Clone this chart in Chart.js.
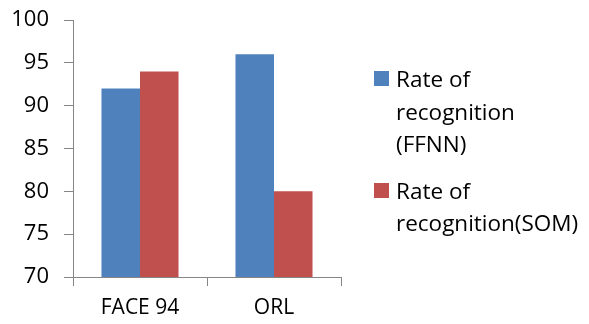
<!DOCTYPE html>
<html>
<head>
<meta charset="utf-8">
<script src="https://cdn.jsdelivr.net/npm/chart.js@4.4.1/dist/chart.umd.min.js"></script>
<style>
  html, body { margin: 0; padding: 0; background: #fff; }
  #wrap { position: relative; width: 589px; height: 324px; }
  #legend { position: absolute; left: 374px; top: 63px; font-family: "Open Sans", sans-serif; font-size: 22.5px; line-height: 32.5px; color: #000; }
  .item { position: relative; padding-left: 22px; margin-bottom: 14px; white-space: nowrap; }
  .box { position: absolute; left: 0; top: 8px; width: 15px; height: 15px; }
</style>
</head>
<body>
<div id="wrap">
  <canvas id="chart" width="589" height="324"></canvas>
  <div id="legend"></div>
</div>
<script>
// datos
const categorias = ['FACE 94', 'ORL'];
const ffnn = [92, 96];
const som = [94, 80];
const series = [
  { nombre: ['Rate of', 'recognition', '(FFNN)'], color: '#4F81BD', datos: ffnn },
  { nombre: ['Rate of', 'recognition(SOM)'], color: '#C0504D', datos: som }
];
const ejeMin = 70, ejeMax = 100, paso = 5;

const gris = '#868686';
const fuente = { family: '"Open Sans", sans-serif', size: 22 };

// sin relleno automático: el área del gráfico la fija layout.padding
function sinRelleno(s) {
  s.paddingTop = 0; s.paddingBottom = 0; s.paddingLeft = 0; s.paddingRight = 0;
}

const ctx = document.getElementById('chart').getContext('2d');
const chart = new Chart(ctx, {
  type: 'bar',
  data: {
    labels: categorias,
    datasets: series.map(s => ({
      label: s.nombre.join(' '),
      data: s.datos,
      backgroundColor: s.color,
      borderWidth: 0,
      barPercentage: 1,
      categoryPercentage: 0.575
    }))
  },
  options: {
    responsive: false,
    animation: false,
    layout: { padding: { top: 20, right: 248, left: 0, bottom: 0 } },
    plugins: { legend: { display: false }, tooltip: { enabled: false } },
    scales: {
      x: {
        grid: { display: true, drawOnChartArea: false, offset: true, tickLength: 9, color: gris },
        border: { color: gris, width: 1 },
        ticks: { color: '#000', font: { family: fuente.family, size: 21 }, padding: 9 },
        afterFit: s => { s.height = 47; sinRelleno(s); }
      },
      y: {
        min: ejeMin, max: ejeMax,
        grid: { display: true, drawOnChartArea: false, tickLength: 9, color: gris },
        border: { color: gris, width: 1 },
        ticks: { stepSize: paso, color: '#000', font: fuente, padding: 15 },
        afterFit: s => { s.width = 73; sinRelleno(s); }
      }
    }
  }
});

// leyenda en HTML
const leyenda = document.getElementById('legend');
series.forEach(s => {
  const div = document.createElement('div');
  div.className = 'item';
  div.innerHTML = '<span class="box" style="background:' + s.color + '"></span>' + s.nombre.join('<br>');
  leyenda.appendChild(div);
});
</script>
</body>
</html>
